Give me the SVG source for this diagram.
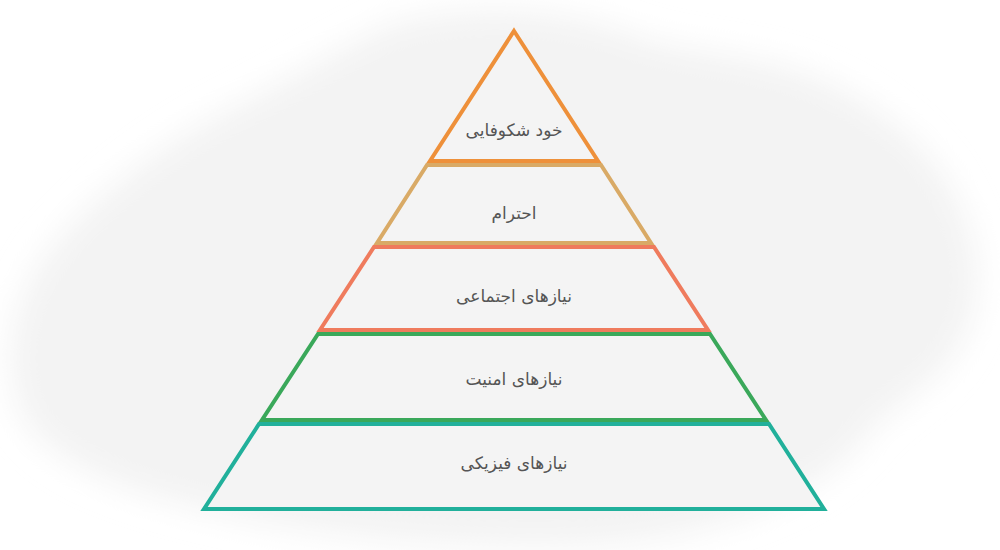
<svg xmlns="http://www.w3.org/2000/svg" width="1000" height="550" viewBox="0 0 1000 550">
<defs>
<filter id="soft" x="-20%" y="-20%" width="140%" height="140%"><feGaussianBlur stdDeviation="16"/></filter>
<style>
.lvl{fill:#f4f4f4;stroke-width:4;stroke-linejoin:miter}
.lbl{font-family:"DejaVu Sans",sans-serif;font-size:17px;fill:#555;text-anchor:middle;dominant-baseline:central}
</style>
</defs>
<rect width="1000" height="550" fill="#ffffff"/>
<g id="background" filter="url(#soft)">
<path d="M380 30 C440 5 560 5 630 35 C700 60 770 50 850 95 C930 140 985 210 975 300 C965 370 910 390 870 430 C830 490 720 540 580 545 C440 548 320 535 230 515 C140 495 60 470 25 420 C0 370 10 300 50 250 C100 190 170 140 230 110 C290 80 330 55 380 30 Z" fill="#f3f3f3"/>
</g>
<g id="connectors"></g>
<g id="level1"><polygon class="lvl" stroke="#ee903a" points="514,31 598,161 430,161"/><text class="lbl" x="514" y="130">خود شکوفایی</text></g>
<g id="level2"><polygon class="lvl" stroke="#d9aa66" points="427,165 601,165 651,243 377,243"/><text class="lbl" x="514" y="213">احترام</text></g>
<g id="level3"><polygon class="lvl" stroke="#ef7b5d" points="374,247 654,247 708,330 320,330"/><text class="lbl" x="514" y="296">نیازهای اجتماعی</text></g>
<g id="level4"><polygon class="lvl" stroke="#3aa85a" points="318,334 710,334 766,420 262,420"/><text class="lbl" x="514" y="379">نیازهای امنیت</text></g>
<g id="level5"><polygon class="lvl" stroke="#21b09b" points="259,424 769,424 824,509 204,509"/><text class="lbl" x="514" y="463">نیازهای فیزیکی</text></g>
</svg>
